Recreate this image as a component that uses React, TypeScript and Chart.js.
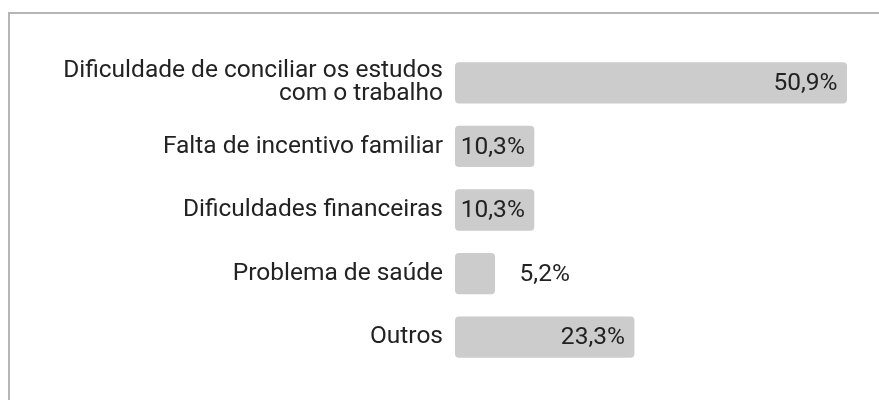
import React, { useEffect, useRef } from "react";
import { Chart, registerables } from "chart.js";

Chart.register(...registerables);

const categories: (string | string[])[] = [
  ["Dificuldade de conciliar os estudos", "com o trabalho"],
  "Falta de incentivo familiar",
  "Dificuldades financeiras",
  "Problema de saúde",
  "Outros",
];
const values: number[] = [50.9, 10.3, 10.3, 5.2, 23.3];

const FONT = "Roboto";
const SIZE = 24.5;

const labelPlugin = {
  id: "barLabels",
  afterDatasetsDraw(chart: any) {
    const ctx = chart.ctx;
    const meta = chart.getDatasetMeta(0);
    ctx.save();
    ctx.font = `${SIZE}px ${FONT}`;
    ctx.fillStyle = "#222222";
    ctx.textBaseline = "middle";
    meta.data.forEach((bar: any, i: number) => {
      const v = values[i];
      const text = v.toFixed(1).replace(".", ",") + "%";
      const w = ctx.measureText(text).width;
      const barLen = bar.x - bar.base;
      if (w + 14 <= barLen) {
        ctx.textAlign = "right";
        ctx.fillText(text, bar.x - 9.5, bar.y + 1);
      } else {
        ctx.textAlign = "left";
        ctx.fillText(text, bar.x + 24.5, bar.y + 1);
      }
    });
    ctx.restore();
  },
};

export default function App() {
  const ref = useRef<HTMLCanvasElement>(null);
  useEffect(() => {
    if (!ref.current) return;
    const chart = new Chart(ref.current, {
      type: "bar",
      data: {
        labels: categories,
        datasets: [
          {
            data: values,
            backgroundColor: "#cccccc",
            borderRadius: 4,
            borderSkipped: false,
            barPercentage: 0.65,
            categoryPercentage: 1,
          },
        ],
      },
      options: {
        indexAxis: "y",
        animation: false,
        responsive: false,
        maintainAspectRatio: false,
        layout: { padding: { top: 43, bottom: 23, right: 24, left: 0 } },
        plugins: { legend: { display: false }, tooltip: { enabled: false } },
        scales: {
          x: { display: false, min: 0, max: 50.9 },
          y: {
            grid: { display: false, drawTicks: false },
            border: { display: false },
            ticks: {
              padding: 12,
              color: "#222222",
              font: { family: FONT, size: SIZE, lineHeight: 23 / SIZE },
            },
            afterFit(scale: any) {
              scale.width = 447;
              scale.paddingTop = 0;
              scale.paddingBottom = 0;
            },
          },
        },
      },
      plugins: [labelPlugin],
    });
    return () => chart.destroy();
  }, []);
  return (
    <div
      style={{
        position: "fixed",
        left: 0,
        top: 0,
        width: 879,
        height: 400,
        overflow: "hidden",
        background: "#ffffff",
      }}
    >
      <div
        style={{
          position: "absolute",
          left: 8,
          top: 12,
          width: 1200,
          height: 1200,
          border: "2px solid #b5b5b5",
        }}
      />
      <canvas
        ref={ref}
        width={863}
        height={384}
        style={{ position: "absolute", left: 8, top: 8, width: 863, height: 384 }}
      />
    </div>
  );
}
